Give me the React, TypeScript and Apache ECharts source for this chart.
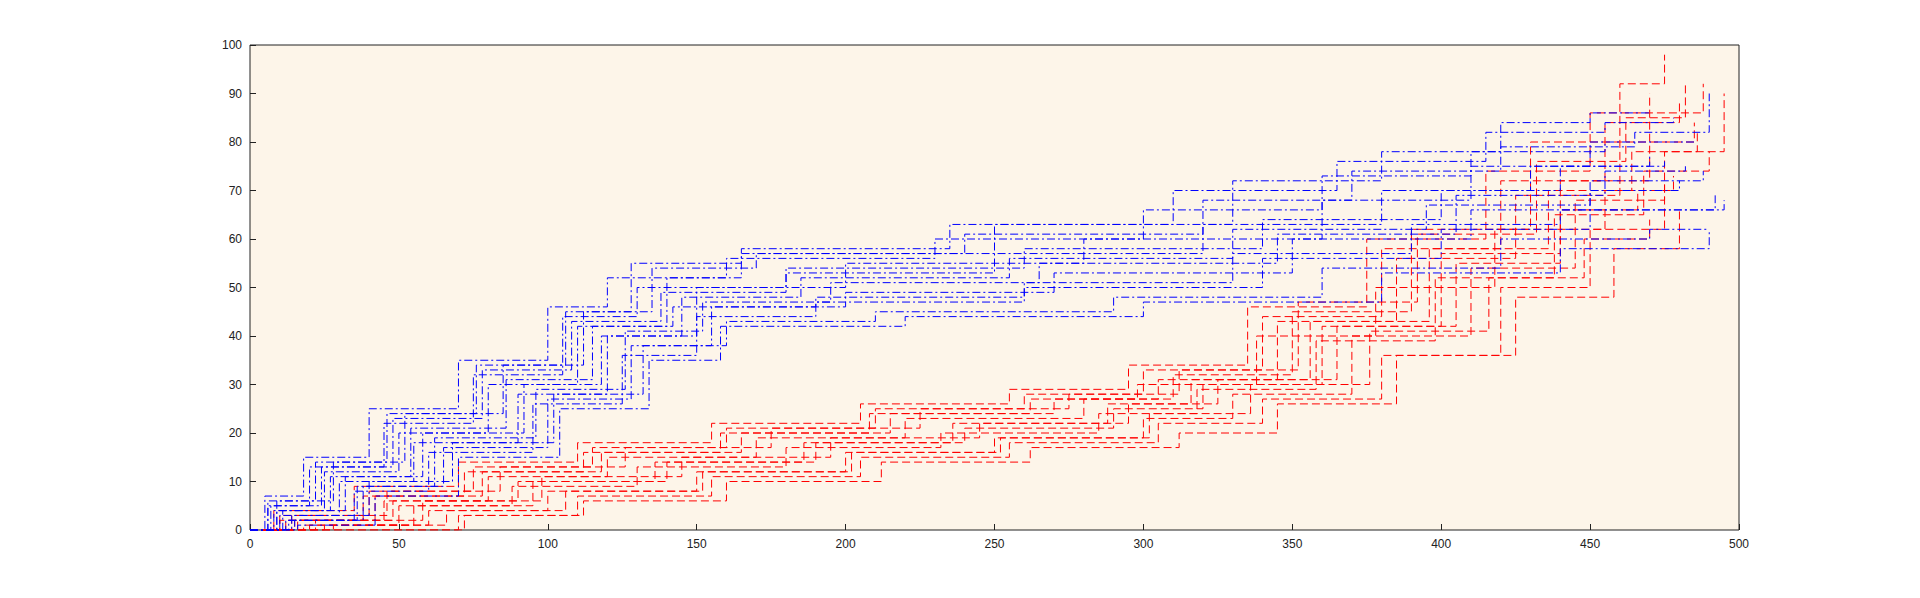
import { useEffect, useRef } from "react";
import * as echarts from "echarts";

const xTicks = [0, 50, 100, 150, 200, 250, 300, 350, 400, 450, 500];
const yTicks = [0, 10, 20, 30, 40, 50, 60, 70, 80, 90, 100];

// blue (dash-dot) step paths: [x, y] breakpoints
const blueSeries: number[][][] = [
  [[0,0],[8,4],[25,12],[50,20],[80,30],[110,42],[140,52],[165,57],[250,63],[330,72],[380,78],[420,84],[450,86],[470,86]],
  [[0,0],[10,3],[30,10],[55,18],[90,28],[120,40],[150,50],[200,55],[280,60],[360,68],[410,75],[450,80],[485,80]],
  [[0,0],[6,5],[20,13],[45,22],[75,32],[105,44],[130,50],[180,54],[260,58],[340,64],[400,70],[440,75],[475,76]],
  [[0,0],[12,2],[35,8],[60,16],[95,26],[125,36],[150,44],[190,47],[260,51],[330,57],[390,63],[440,66],[495,68]],
  [[0,0],[9,6],[28,14],[52,24],[85,34],[112,45],[135,54],[170,57],[240,61],[320,68],[370,74],[420,79],[465,82],[490,90]],
  [[0,0],[15,2],[38,9],[65,17],[100,27],[128,38],[155,46],[200,49],[270,53],[350,60],[410,66],[450,70],[480,72]],
  [[0,0],[5,7],[18,15],[40,25],[70,35],[100,46],[120,52],[160,56],[230,60],[300,66],[360,73],[410,78],[455,80]],
  [[0,0],[11,4],[32,11],[58,20],[92,30],[118,40],[145,48],[185,52],[255,56],[330,62],[395,67],[450,72],[488,74]],
  [[0,0],[14,3],[40,10],[68,18],[102,28],[132,38],[160,43],[210,45],[290,48],[360,54],[420,60],[470,62],[490,62]],
  [[0,0],[7,5],[24,13],[48,23],[78,33],[108,43],[138,49],[180,53],[250,57],[320,63],[380,70],[430,75],[470,77]],
  [[0,0],[13,2],[36,9],[62,19],[96,29],[126,41],[152,47],[195,51],[265,55],[345,61],[405,69],[455,74],[482,75]],
  [[0,0],[9,4],[27,11],[54,21],[86,31],[115,42],[142,46],[190,48],[260,50],[340,56],[400,62],[450,66],[492,69]],
  [[0,0],[16,1],[42,7],[70,15],[104,25],[134,35],[158,42],[220,44],[300,47],[380,53],[440,58],[490,62]],
  [[0,0],[6,6],[22,14],[46,24],[76,34],[106,45],[128,55],[165,58],[235,63],[310,70],[365,76],[415,82],[455,84],[478,85]],
];

// red (dashed) step paths
const redSeries: number[][][] = [
  [[0,0],[15,2],[45,6],[80,11],[120,15],[170,19],[220,23],[280,27],[310,32],[350,45],[390,62],[430,80],[460,92],[475,98]],
  [[0,0],[20,1],[55,5],[95,10],[140,14],[190,18],[240,21],[290,25],[320,30],[360,42],[400,57],[440,72],[470,86],[488,92]],
  [[0,0],[10,3],[40,8],[75,13],[115,17],[160,21],[210,25],[260,28],[300,33],[340,44],[380,58],[420,72],[455,84],[480,88]],
  [[0,0],[25,1],[60,4],[100,8],[150,12],[200,16],[250,19],[300,23],[330,28],[370,40],[410,54],[445,68],[475,78],[495,90]],
  [[0,0],[12,2],[42,7],[78,12],[118,16],[165,20],[215,24],[270,27],[305,31],[345,43],[385,56],[425,69],[460,80],[485,84]],
  [[0,0],[30,0],[70,3],[110,7],[155,11],[205,15],[255,18],[305,22],[340,27],[380,36],[420,50],[450,62],[475,72]],
  [[0,0],[8,4],[35,9],[70,14],[110,18],[155,22],[205,26],[255,29],[295,34],[335,46],[375,60],[415,74],[450,86],[470,90]],
  [[0,0],[18,1],[50,5],[88,9],[130,13],[180,17],[232,20],[285,24],[318,29],[358,39],[398,52],[438,65],[468,74],[490,78]],
  [[0,0],[22,2],[58,6],[98,11],[145,15],[195,19],[245,22],[295,26],[325,31],[365,42],[405,55],[440,66],[466,70]],
  [[0,0],[14,3],[46,8],[84,13],[126,17],[175,21],[225,25],[275,28],[312,33],[352,47],[392,61],[432,76],[462,85],[482,92]],
  [[0,0],[28,1],[66,4],[106,8],[152,12],[202,16],[252,19],[302,24],[336,30],[376,41],[416,52],[448,60],[470,64]],
  [[0,0],[10,2],[38,7],[72,12],[112,16],[158,20],[208,24],[262,27],[298,30],[338,40],[378,50],[418,62],[455,70],[478,73]],
  [[0,0],[35,0],[72,3],[112,6],[160,10],[212,14],[262,17],[312,20],[345,26],[385,36],[425,48],[458,58],[480,66]],
  [[0,0],[16,2],[48,6],[90,10],[136,14],[186,18],[236,22],[288,26],[316,31],[356,43],[396,58],[436,70],[464,78],[486,82]],
];

export default function App() {
  const ref = useRef<HTMLDivElement>(null);

  useEffect(() => {
    if (!ref.current) return;
    const chart = echarts.init(ref.current, undefined, { renderer: "svg" });
    const mk = (d: number[][], color: string, dash: number[]) => ({
      type: "line" as const,
      data: d,
      step: "end" as const,
      showSymbol: false,
      lineStyle: { color, width: 1, type: dash },
    });
    chart.setOption({
      animation: false,
      backgroundColor: "#fff",
      grid: { left: 242, right: 173, top: 37, bottom: 60, show: true, backgroundColor: "#fdf5e9", borderColor: "#222", borderWidth: 1 },
      xAxis: {
        type: "value", min: 0, max: 500, interval: 50,
        axisLine: { show: false },
        axisTick: { show: true, inside: true, length: 6, lineStyle: { color: "#222" } },
        axisLabel: { color: "#222", fontSize: 12, fontFamily: "Liberation Sans", formatter: (v: number) => xTicks.includes(v) ? String(v) : "" },
        splitLine: { show: false },
      },
      yAxis: {
        type: "value", min: 0, max: 100, interval: 10,
        axisLine: { show: false },
        axisTick: { show: true, inside: true, length: 6, lineStyle: { color: "#222" } },
        axisLabel: { color: "#222", fontSize: 12, fontFamily: "Liberation Sans", formatter: (v: number) => yTicks.includes(v) ? String(v) : "" },
        splitLine: { show: false },
      },
      series: [
        ...redSeries.map(d => mk(d, "#ff0000", [8, 4])),
        ...blueSeries.map(d => mk(d, "#0000ff", [8, 3, 2, 3])),
      ],
    });
    return () => chart.dispose();
  }, []);

  return <div ref={ref} style={{ width: 1904, height: 582 }} />;
}
